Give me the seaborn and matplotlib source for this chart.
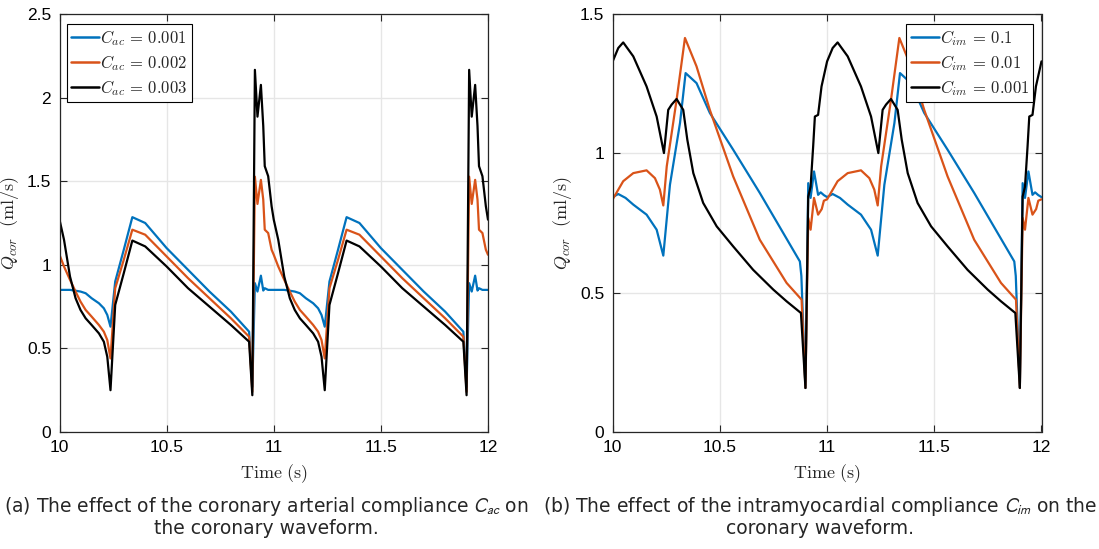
import numpy as np
import pandas as pd
import matplotlib
matplotlib.use("Agg")
import matplotlib.pyplot as plt
import seaborn as sns

# ---------------- data ----------------
# Panel (a): effect of C_ac
time_a = [10.000, 10.021, 10.049, 10.075, 10.098, 10.122, 10.150, 10.184, 10.207, 10.223,
          10.238, 10.260, 10.300, 10.340, 10.400, 10.500, 10.600, 10.700, 10.800, 10.885,
          10.900, 10.912, 10.924, 10.940, 10.951, 10.958, 10.974, 10.990,
          11.000, 11.021, 11.049, 11.075, 11.098, 11.122, 11.150, 11.184, 11.207, 11.223,
          11.238, 11.260, 11.300, 11.340, 11.400, 11.500, 11.600, 11.700, 11.800, 11.885,
          11.900, 11.912, 11.924, 11.940, 11.951, 11.958, 11.974, 11.990, 12.000]
q_cac_001 = [0.85, 0.85, 0.85, 0.845, 0.84, 0.83, 0.80, 0.77, 0.74, 0.70,
             0.63, 0.90, 1.09, 1.285, 1.25, 1.10, 0.97, 0.84, 0.72, 0.60,
             0.27, 0.89, 0.84, 0.935, 0.846, 0.86, 0.85, 0.85,
             0.85, 0.85, 0.85, 0.845, 0.84, 0.83, 0.80, 0.77, 0.74, 0.70,
             0.63, 0.90, 1.09, 1.285, 1.25, 1.10, 0.97, 0.84, 0.72, 0.60,
             0.27, 0.89, 0.84, 0.935, 0.846, 0.86, 0.85, 0.85, 0.85]
q_cac_002 = [1.06, 0.99, 0.91, 0.84, 0.78, 0.73, 0.69, 0.64, 0.60, 0.55,
             0.44, 0.86, 1.03, 1.21, 1.18, 1.05, 0.92, 0.80, 0.68, 0.57,
             0.24, 1.527, 1.364, 1.508, 1.39, 1.21, 1.19, 1.09,
             1.06, 0.99, 0.91, 0.84, 0.78, 0.73, 0.69, 0.64, 0.60, 0.55,
             0.44, 0.86, 1.03, 1.21, 1.18, 1.05, 0.92, 0.80, 0.68, 0.57,
             0.24, 1.527, 1.364, 1.508, 1.39, 1.21, 1.19, 1.09, 1.06]
q_cac_003 = [1.27, 1.15, 0.93, 0.80, 0.73, 0.68, 0.64, 0.59, 0.54, 0.45,
             0.25, 0.76, 0.95, 1.145, 1.11, 0.99, 0.86, 0.75, 0.64, 0.54,
             0.22, 2.166, 1.886, 2.076, 1.83, 1.59, 1.53, 1.35,
             1.27, 1.15, 0.93, 0.80, 0.73, 0.68, 0.64, 0.59, 0.54, 0.45,
             0.25, 0.76, 0.95, 1.145, 1.11, 0.99, 0.86, 0.75, 0.64, 0.54,
             0.22, 2.166, 1.886, 2.076, 1.83, 1.59, 1.53, 1.35, 1.27]

# Panel (b): effect of C_im
time_b1 = [10.000, 10.026, 10.060, 10.096, 10.158, 10.205, 10.236, 10.267, 10.314, 10.340,
           10.391, 10.453, 10.562, 10.686, 10.873, 10.880, 10.899, 10.912, 10.923, 10.939,
           10.958, 10.970, 10.985,
           11.000, 11.026, 11.060, 11.096, 11.158, 11.205, 11.236, 11.267, 11.314, 11.340,
           11.391, 11.453, 11.562, 11.686, 11.873, 11.880, 11.899, 11.912, 11.923, 11.939,
           11.958, 11.970, 11.985, 12.000]
q_cim_1 = [0.843, 0.854, 0.840, 0.816, 0.780, 0.726, 0.633, 0.887, 1.109, 1.288,
           1.252, 1.145, 1.013, 0.858, 0.612, 0.560, 0.158, 0.893, 0.840, 0.935,
           0.851, 0.860, 0.850,
           0.843, 0.854, 0.840, 0.816, 0.780, 0.726, 0.633, 0.887, 1.109, 1.288,
           1.252, 1.145, 1.013, 0.858, 0.612, 0.560, 0.158, 0.893, 0.840, 0.935,
           0.851, 0.860, 0.850, 0.843]

time_b2 = [10.000, 10.049, 10.096, 10.158, 10.197, 10.220, 10.236, 10.252, 10.298, 10.337,
           10.391, 10.453, 10.562, 10.686, 10.811, 10.881, 10.899, 10.912, 10.923, 10.939,
           10.958, 10.975, 10.985,
           11.000, 11.049, 11.096, 11.158, 11.197, 11.220, 11.236, 11.252, 11.298, 11.337,
           11.391, 11.453, 11.562, 11.686, 11.811, 11.881, 11.899, 11.912, 11.923, 11.939,
           11.958, 11.975, 11.985, 12.000]
q_cim_01 = [0.835, 0.900, 0.929, 0.939, 0.911, 0.870, 0.813, 0.953, 1.192, 1.414,
            1.312, 1.156, 0.917, 0.690, 0.535, 0.475, 0.158, 0.768, 0.726, 0.840,
            0.780, 0.800, 0.830,
            0.835, 0.900, 0.929, 0.939, 0.911, 0.870, 0.813, 0.953, 1.192, 1.414,
            1.312, 1.156, 0.917, 0.690, 0.535, 0.475, 0.158, 0.768, 0.726, 0.840,
            0.780, 0.800, 0.830, 0.835]

time_b3 = [10.000, 10.026, 10.049, 10.096, 10.158, 10.205, 10.239, 10.259, 10.275, 10.298,
           10.329, 10.348, 10.376, 10.422, 10.485, 10.562, 10.655, 10.749, 10.811, 10.878,
           10.899, 10.912, 10.923, 10.935, 10.943, 10.958, 10.974,
           11.000, 11.026, 11.049, 11.096, 11.158, 11.205, 11.239, 11.259, 11.275, 11.298,
           11.329, 11.348, 11.376, 11.422, 11.485, 11.562, 11.655, 11.749, 11.811, 11.878,
           11.899, 11.912, 11.923, 11.935, 11.943, 11.958, 11.974, 12.000]
q_cim_001 = [1.330, 1.378, 1.398, 1.348, 1.240, 1.132, 1.001, 1.156, 1.175, 1.195,
             1.156, 1.049, 0.929, 0.822, 0.738, 0.666, 0.582, 0.511, 0.469, 0.427,
             0.158, 0.845, 0.880, 1.025, 1.132, 1.138, 1.240,
             1.330, 1.378, 1.398, 1.348, 1.240, 1.132, 1.001, 1.156, 1.175, 1.195,
             1.156, 1.049, 0.929, 0.822, 0.738, 0.666, 0.582, 0.511, 0.469, 0.427,
             0.158, 0.845, 0.880, 1.025, 1.132, 1.138, 1.240, 1.330]

labels_a = [r"$C_{ac}\,=\,0.001$", r"$C_{ac}\,=\,0.002$", r"$C_{ac}\,=\,0.003$"]
labels_b = [r"$C_{im}\,=\,0.1$", r"$C_{im}\,=\,0.01$", r"$C_{im}\,=\,0.001$"]
colors = ["#0072BD", "#D95319", "#000000"]

# ---------------- style ----------------
sns.set_style("ticks")
plt.rcParams["font.family"] = ["Liberation Sans", "DejaVu Sans"]
plt.rcParams["mathtext.fontset"] = "cm"

fig = plt.figure(figsize=(10.99, 5.49), dpi=100)
W, H = 1099, 549
axA = fig.add_axes([59.5 / W, 1 - 432 / H, 428.5 / W, 418 / H])
axB = fig.add_axes([612.7 / W, 1 - 432 / H, 428.8 / W, 418 / H])

dfA = pd.concat([
    pd.DataFrame({"t": time_a, "q": q_cac_001, "s": labels_a[0]}),
    pd.DataFrame({"t": time_a, "q": q_cac_002, "s": labels_a[1]}),
    pd.DataFrame({"t": time_a, "q": q_cac_003, "s": labels_a[2]}),
])
dfB = pd.concat([
    pd.DataFrame({"t": time_b1, "q": q_cim_1, "s": labels_b[0]}),
    pd.DataFrame({"t": time_b2, "q": q_cim_01, "s": labels_b[1]}),
    pd.DataFrame({"t": time_b3, "q": q_cim_001, "s": labels_b[2]}),
])

sns.lineplot(data=dfA, x="t", y="q", hue="s", palette=colors, sort=False,
             estimator=None, linewidth=1.6, ax=axA)
sns.lineplot(data=dfB, x="t", y="q", hue="s", palette=colors, sort=False,
             estimator=None, linewidth=1.6, ax=axB)

tick_font = 12.5
for ax, ylim, yt in [(axA, (0, 2.5), [0, 0.5, 1, 1.5, 2, 2.5]),
                     (axB, (0, 1.5), [0, 0.5, 1, 1.5])]:
    ax.set_xlim(10, 12)
    ax.set_ylim(*ylim)
    ax.set_xticks([10, 10.5, 11, 11.5, 12])
    ax.set_xticklabels(["10", "10.5", "11", "11.5", "12"])
    ax.set_yticks(yt)
    ax.set_yticklabels([("%g" % v) for v in yt])
    ax.grid(True, color="#e6e6e6", linewidth=1.0)
    ax.set_axisbelow(True)
    ax.tick_params(direction="in", top=True, right=True, length=5, width=0.8,
                   labelsize=tick_font, pad=6, colors="#262626", labelcolor="black")
    for sp in ax.spines.values():
        sp.set_color("#262626")
        sp.set_linewidth(0.9)
    ax.set_xlabel(r"$\mathrm{Time\ (s)}$", fontsize=13, labelpad=5)
    ax.set_ylabel(r"$Q_{cor}\ \ (\mathrm{ml/s})$", fontsize=13, labelpad=4)

leg_kw = dict(borderaxespad=0, fontsize=12, handlelength=1.7, handletextpad=0.05,
              borderpad=0.25, labelspacing=0.3, fancybox=False, framealpha=1,
              edgecolor="black")
legA = axA.legend(loc="upper left", bbox_to_anchor=(0.0175, 0.976), **leg_kw)
legB = axB.legend(loc="upper right", bbox_to_anchor=(0.981, 0.976), **leg_kw)
for leg in (legA, legB):
    leg.get_frame().set_linewidth(0.8)
    for ln in leg.get_lines():
        ln.set_linewidth(1.8)

cap_font = ["DejaVu Sans"]
cap_size = 13.5
fig.text(266 / W, 1 - 512.5 / H,
         r"(a) The effect of the coronary arterial compliance $C_{ac}$ on",
         ha="center", va="baseline", fontsize=cap_size, family=cap_font,
         math_fontfamily="stixsans")
fig.text(266 / W, 1 - 534 / H, "the coronary waveform.",
         ha="center", va="baseline", fontsize=cap_size, family=cap_font)
fig.text(820 / W, 1 - 512.5 / H,
         r"(b) The effect of the intramyocardial compliance $C_{im}$ on the",
         ha="center", va="baseline", fontsize=cap_size, family=cap_font,
         math_fontfamily="stixsans")
fig.text(820 / W, 1 - 534 / H, "coronary waveform.",
         ha="center", va="baseline", fontsize=cap_size, family=cap_font)

fig.savefig("out.png", dpi=100)
